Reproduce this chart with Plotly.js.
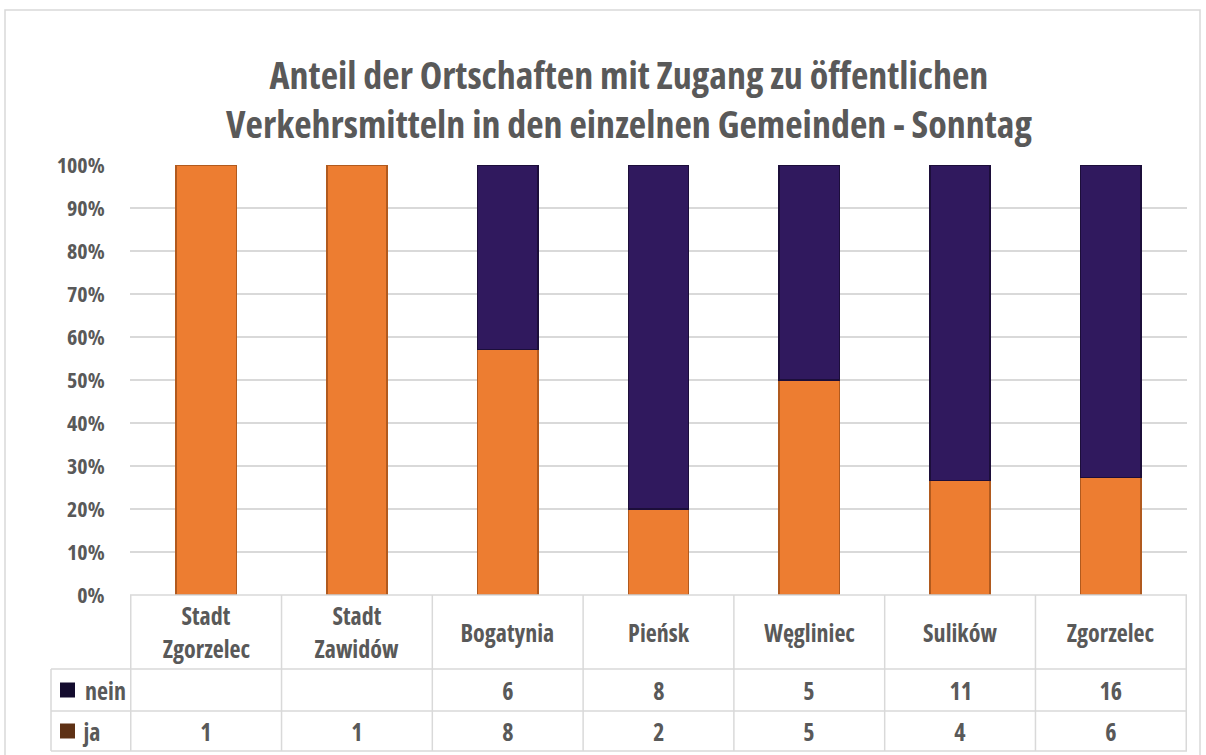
<!DOCTYPE html>
<html><head><meta charset="utf-8">
<script src="https://cdn.plot.ly/plotly-3.0.1.min.js"></script>
<style>
html,body{margin:0;padding:0;background:#fff;}
#chart{width:1206px;height:755px;}
#chart text{font-stretch:75% !important;}
</style></head><body><div id="chart"></div>
<script>
// ---- data ----
const categories = ['Stadt Zgorzelec','Stadt Zawidów','Bogatynia','Pieńsk','Węgliniec','Sulików','Zgorzelec'];
const categoryLabelLines = [['Stadt','Zgorzelec'],['Stadt','Zawidów'],['Bogatynia'],['Pieńsk'],['Węgliniec'],['Sulików'],['Zgorzelec']];
const jaValues = [1,1,8,2,5,4,6];
const neinValues = [null,null,6,8,5,11,16];
const seriesNames = ['nein','ja'];
const yTickValues = [0,0.1,0.2,0.3,0.4,0.5,0.6,0.7,0.8,0.9,1];
const yTickLabels = ['0%','10%','20%','30%','40%','50%','60%','70%','80%','90%','100%'];
const titleText = 'Anteil der Ortschaften mit Zugang zu öffentlichen<br>Verkehrsmitteln in den einzelnen Gemeinden - Sonntag';

// ---- layout geometry (pixels) ----
const W = 1206, H = 755;
const M = {l:130, r:19, t:165, b:160};
const PW = W - M.l - M.r, PH = H - M.t - M.b;
const PLOT_BOTTOM = H - M.b;
const px = x => (x - M.l) / PW;
const py = y => (PLOT_BOTTOM - y) / PH;

const FONT = '"Open Sans", "DejaVu Sans Condensed", sans-serif';
const TXT = '#595959';
const GRID = '#d9d9d9';
const ORANGE = '#ED7D31';
const PURPLE = '#30195E';

const traces = [
  {type:'bar', name:seriesNames[1], x:categories, y:jaValues,
   marker:{color:ORANGE, line:{color:'#B15A1E', width:1.5}}, hoverinfo:'skip'},
  {type:'bar', name:seriesNames[0], x:categories, y:neinValues,
   marker:{color:PURPLE, line:{color:'#1C0E3A', width:1.5}}, hoverinfo:'skip'}
];

const shapes = [];
const annotations = [];
const line = (x0,y0,x1,y1) => shapes.push({type:'line', xref:'paper', yref:'paper', x0, y0, x1, y1, line:{color:GRID, width:1.5}, layer:'above'});

// chart border
shapes.push({type:'rect', xref:'paper', yref:'paper', x0:px(5), x1:px(1200), y0:py(10), y1:py(770), line:{color:GRID, width:1.5}, fillcolor:'rgba(0,0,0,0)', layer:'below'});

// table rows
const rowTop = 595, rowNein = 669, rowJa = 711, rowEnd = 751;
line(px(130), py(rowTop), 1, py(rowTop));
line(px(51), py(rowNein), 1, py(rowNein));
line(px(51), py(rowJa), 1, py(rowJa));
line(px(51), py(rowEnd), 1, py(rowEnd));
line(px(51), py(rowNein), px(51), py(rowEnd));
for (let i = 0; i <= categories.length; i++) {
  shapes.push({type:'line', xref:'x', yref:'paper', x0:i-0.5, x1:i-0.5, y0:py(rowTop), y1:py(rowEnd), line:{color:GRID, width:1.5}});
}

const tfont = {family:FONT, size:24, color:TXT, weight:700};
// category labels and table values
categories.forEach((c, i) => {
  const lines = categoryLabelLines[i];
  const mid = (rowTop + rowNein) / 2;
  const step = 33;
  lines.forEach((t, k) => {
    const yc = mid + (k - (lines.length - 1) / 2) * step;
    annotations.push({xref:'x', yref:'paper', x:c, y:py(yc), text:t, showarrow:false, yanchor:'middle', xanchor:'center', font:tfont});
  });
  if (neinValues[i] !== null) annotations.push({xref:'x', yref:'paper', x:c, y:py((rowNein+rowJa)/2), text:String(neinValues[i]), showarrow:false, yanchor:'middle', font:tfont});
  if (jaValues[i] !== null) annotations.push({xref:'x', yref:'paper', x:c, y:py((rowJa+rowEnd)/2), text:String(jaValues[i]), showarrow:false, yanchor:'middle', font:tfont});
});

// legend keys
const keyRows = [[seriesNames[0], (rowNein+rowJa)/2, '#140C2E'], [seriesNames[1], (rowJa+rowEnd)/2, '#5E3115']];
keyRows.forEach(([name, yc, col]) => {
  shapes.push({type:'rect', xref:'paper', yref:'paper', x0:px(60), x1:px(75), y0:py(yc-7.5), y1:py(yc+7.5), fillcolor:col, line:{width:0}});
  annotations.push({xref:'paper', yref:'paper', x:px(77), y:py(yc), text:name, showarrow:false, xanchor:'left', yanchor:'middle', font:tfont});
});

const layout = {
  width:W, height:H, margin:M,
  paper_bgcolor:'#fff', plot_bgcolor:'#fff',
  barmode:'stack', barnorm:'fraction', bargap:0.6,
  showlegend:false,
  title:{text:titleText, font:{family:FONT, size:38, color:TXT, weight:700}, x:629/W, xref:'container', xanchor:'center', y:1-89/H, yref:'container', yanchor:'middle'},
  xaxis:{type:'category', showticklabels:false, showgrid:false, zeroline:false, showline:false, ticks:'', fixedrange:true},
  yaxis:{range:[0,1], tickvals:yTickValues, ticktext:yTickLabels, showgrid:true, gridcolor:GRID, gridwidth:1.5, zeroline:false, showline:false,
         ticks:'outside', ticklen:20, tickcolor:'rgba(0,0,0,0)', tickfont:{family:FONT, size:22, color:TXT, weight:700}, fixedrange:true},
  shapes, annotations
};

Plotly.newPlot('chart', traces, layout, {displayModeBar:false, staticPlot:true});
</script></body></html>
